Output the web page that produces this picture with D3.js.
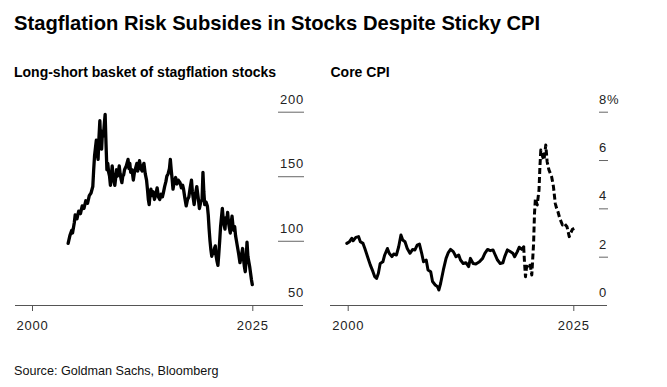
<!DOCTYPE html>
<html>
<head>
<meta charset="utf-8">
<script src="https://cdn.jsdelivr.net/npm/d3@7"></script>
<style>
  body { margin: 0; background: #fff; }
  svg { display: block; font-family: "Liberation Sans", Arial, sans-serif; }
  .tick text { font-size: 13px; letter-spacing: 0.8px; fill: #222; }
</style>
</head>
<body>
<svg id="chart" width="667" height="387"></svg>
<script>
// long-short basket of stagflation stocks (index)
const basketYears = [2004.1, 2004.3, 2004.5, 2004.6, 2004.8, 2004.9, 2005.1, 2005.3, 2005.5, 2005.7, 2005.9, 2006.1, 2006.3, 2006.5, 2006.7, 2006.9,
  2007.0, 2007.1, 2007.2, 2007.3, 2007.4, 2007.5, 2007.6, 2007.7, 2007.8, 2007.9, 2008.0, 2008.1, 2008.2, 2008.3, 2008.4, 2008.5,
  2008.6, 2008.7, 2008.8, 2008.9, 2009.0, 2009.1, 2009.2, 2009.3, 2009.4, 2009.5, 2009.6, 2009.7, 2009.8, 2009.9, 2010.0, 2010.1,
  2010.2, 2010.3, 2010.4, 2010.5, 2010.7, 2010.9, 2011.0, 2011.1, 2011.2, 2011.35, 2011.5, 2011.6, 2011.75, 2011.9, 2012.0, 2012.2,
  2012.35, 2012.5, 2012.6, 2012.7, 2012.85, 2013.0, 2013.1, 2013.2, 2013.3, 2013.4, 2013.5, 2013.6, 2013.75, 2013.9, 2014.05, 2014.2,
  2014.35, 2014.5, 2014.65, 2014.8, 2014.9, 2015.05, 2015.2, 2015.3, 2015.45, 2015.6, 2015.7, 2015.8, 2015.9, 2016.0, 2016.15, 2016.3,
  2016.45, 2016.6, 2016.8, 2016.95, 2017.1, 2017.2, 2017.35, 2017.5, 2017.65, 2017.8, 2017.95, 2018.1, 2018.2, 2018.3, 2018.4, 2018.55,
  2018.7, 2018.85, 2019.0, 2019.15, 2019.3, 2019.4, 2019.5, 2019.6, 2019.75, 2019.9, 2020.0, 2020.1, 2020.2, 2020.3, 2020.4, 2020.5,
  2020.6, 2020.7, 2020.8, 2020.9, 2021.0, 2021.1, 2021.2, 2021.3, 2021.4, 2021.5, 2021.6, 2021.7, 2021.8, 2021.9, 2022.0, 2022.1,
  2022.2, 2022.3, 2022.4, 2022.5, 2022.6, 2022.7, 2022.8, 2022.9, 2023.0, 2023.1, 2023.2, 2023.3, 2023.45, 2023.6, 2023.75, 2023.9,
  2024.0, 2024.1, 2024.2, 2024.3, 2024.4, 2024.5, 2024.6, 2024.7, 2024.8, 2024.9, 2025.0];
const basketValues = [98, 104, 108, 106, 114, 120, 117, 123, 121, 127, 125, 131, 129, 135, 137, 142,
  155, 166, 172, 178, 168, 163, 180, 193, 175, 171, 185, 181, 190, 198, 175, 155,
  160, 153, 150, 143, 150, 158, 150, 146, 143, 149, 155, 150, 153, 158, 152, 148,
  145, 150, 151, 155, 158, 163, 156, 160, 153, 155, 147, 152, 156, 160, 154, 162,
  156, 154, 158, 160, 152, 147, 140, 132, 128, 136, 140, 135, 138, 132, 136, 141,
  134, 132, 136, 134, 137, 142, 146, 150, 152, 156, 163, 155, 148, 140, 146, 149,
  144, 147, 145, 141, 143, 140, 133, 127, 132, 134, 141, 147, 138, 133, 128, 136,
  142, 134, 125, 130, 132, 153, 138, 128, 130, 127, 120, 109, 100, 93, 88, 92,
  90, 94, 96, 88, 84, 81, 90, 100, 111, 118, 125, 117, 112, 109, 118, 115,
  122, 114, 110, 106, 114, 119, 112, 108, 111, 104, 100, 96, 90, 83, 88, 94,
  86, 80, 76, 86, 99, 88, 84, 80, 75, 70, 66];

// core CPI, % y/y
const cpiYears = [1999.9, 2000.2, 2000.45, 2000.6, 2000.9, 2001.2, 2001.4, 2001.7, 2001.9, 2002.2, 2002.5, 2002.8, 2003.0, 2003.2, 2003.4, 2003.6,
  2003.9, 2004.1, 2004.4, 2004.6, 2004.9, 2005.1, 2005.4, 2005.65, 2005.9, 2006.1, 2006.35, 2006.6, 2006.9, 2007.2, 2007.45, 2007.7,
  2007.95, 2008.2, 2008.4, 2008.7, 2008.9, 2009.2, 2009.4, 2009.7, 2009.95, 2010.1, 2010.3, 2010.6, 2010.9, 2011.15, 2011.4, 2011.7,
  2012.0, 2012.3, 2012.5, 2012.8, 2013.1, 2013.4, 2013.6, 2013.9, 2014.2, 2014.6, 2014.95, 2015.2, 2015.5, 2015.8, 2016.1, 2016.3,
  2016.6, 2016.9, 2017.2, 2017.4, 2017.7, 2018.0, 2018.3, 2018.5, 2018.8, 2019.0, 2019.3, 2019.5];
const cpiValues = [2.55, 2.62, 2.76, 2.66, 2.8, 2.83, 2.62, 2.55, 2.34, 2.0, 1.66, 1.38, 1.17, 1.1, 1.31, 1.72,
  1.79, 2.07, 2.34, 2.14, 2.0, 2.11, 2.07, 2.41, 2.9, 2.69, 2.62, 2.34, 2.14, 2.3, 2.28, 2.48,
  2.52, 2.14, 1.79, 1.86, 1.45, 1.38, 0.97, 0.83, 0.76, 0.62, 0.9, 1.45, 1.93, 2.17, 2.3, 2.21,
  2.0, 2.07, 1.86, 1.72, 1.75, 1.59, 1.93, 1.72, 1.7, 1.79, 1.93, 2.14, 2.3, 2.25, 2.28, 2.11,
  1.86, 1.72, 1.75, 2.0, 2.28, 2.21, 2.14, 2.0, 2.21, 2.39, 2.3, 2.41];
// dashed stretch from 2019.5 on
const cpiLateYears = [2019.5, 2019.6, 2019.7, 2019.8, 2020.0, 2020.2, 2020.4, 2020.6, 2020.7, 2020.8, 2021.0, 2021.2, 2021.3, 2021.4, 2021.6, 2021.75,
  2021.95, 2022.1, 2022.3, 2022.6, 2022.8, 2023.0, 2023.15, 2023.3, 2023.5, 2023.8, 2024.0, 2024.3, 2024.55, 2024.7, 2024.9, 2025.1];
const cpiLateValues = [2.41, 1.72, 1.17, 1.52, 1.66, 1.72, 1.24, 2.55, 3.79, 4.41, 4.14, 4.76, 5.72, 6.41, 6.14, 6.0,
  6.62, 5.93, 5.59, 5.31, 4.9, 4.21, 4.0, 3.86, 3.59, 3.31, 3.38, 3.24, 2.83, 2.97, 3.13, 3.17];

const yearTicks = [2000, 2025];
const basketTicks = [50, 100, 150, 200];
const cpiTicks = [0, 2, 4, 6, 8];

const svg = d3.select("#chart");

// titles
svg.append("text").attr("x", 14).attr("y", 30)
  .attr("font-size", 20.2).attr("font-weight", "bold").attr("fill", "#000")
  .text("Stagflation Risk Subsides in Stocks Despite Sticky CPI");
svg.append("text").attr("x", 14).attr("y", 77)
  .attr("font-size", 14).attr("font-weight", "bold").attr("fill", "#000")
  .text("Long-short basket of stagflation stocks");
svg.append("text").attr("x", 330.5).attr("y", 77)
  .attr("font-size", 14).attr("font-weight", "bold").attr("fill", "#000")
  .text("Core CPI");
svg.append("text").attr("x", 14).attr("y", 374.5)
  .attr("font-size", 12.6).attr("fill", "#111")
  .text("Source: Goldman Sachs, Bloomberg");

// ----- left panel
let xL = d3.scaleLinear().domain([2000, 2025]).range([32, 252.3]);
let yL = d3.scaleLinear().domain([50, 200]).range([305.3, 111.7]);

let gridL = svg.append("g")
  .attr("transform", "translate(304,0)")
  .call(d3.axisLeft(yL).tickValues(basketTicks.slice(1)).tickSize(26).tickFormat(d3.format("d")));
gridL.select(".domain").remove();
gridL.selectAll("line").attr("stroke", "#666");
gridL.selectAll("text").attr("x", 0).attr("dy", -8.5).attr("text-anchor", "end");
// the 50 label sits on the axis line
svg.append("g").attr("class", "tick")
  .append("text").attr("x", 304).attr("y", yL(50) - 8.5).attr("text-anchor", "end")
  .text(basketTicks[0]);

svg.append("line").attr("x1", 15).attr("x2", 303).attr("y1", 305.5).attr("y2", 305.5).attr("stroke", "#555");
let axL = svg.append("g").attr("transform", "translate(0,305)")
  .call(d3.axisBottom(xL).tickValues(yearTicks).tickSize(6).tickPadding(10).tickFormat(d3.format("d")));
axL.select(".domain").remove();
axL.selectAll("line").attr("stroke", "#555");

let lineL = d3.line().x(function(d) { return xL(d[0]); }).y(function(d) { return yL(d[1]); });
svg.append("path")
  .datum(d3.zip(basketYears, basketValues))
  .attr("fill", "none").attr("stroke", "#000").attr("stroke-width", 3.3)
  .attr("stroke-linejoin", "round").attr("stroke-linecap", "round")
  .attr("d", lineL);

// ----- right panel
let xR = d3.scaleLinear().domain([2000, 2025]).range([347.7, 573.3]);
let yR = d3.scaleLinear().domain([0, 8]).range([305, 111.7]);

let gridR = svg.append("g")
  .attr("transform", "translate(599,0)")
  .call(d3.axisRight(yR).tickValues(cpiTicks).tickSize(9).tickFormat(function(d) { return d == 8 ? d + "%" : d; }));
gridR.select(".domain").remove();
gridR.selectAll("line").attr("stroke", "#666").filter(function(d) { return d == 0; }).remove();
gridR.selectAll("text").attr("x", 0).attr("dy", -8.5).attr("text-anchor", "start");

svg.append("line").attr("x1", 330).attr("x2", 607).attr("y1", 305.5).attr("y2", 305.5).attr("stroke", "#555");
let axR = svg.append("g").attr("transform", "translate(0,305)")
  .call(d3.axisBottom(xR).tickValues(yearTicks).tickSize(6).tickPadding(10).tickFormat(d3.format("d")));
axR.select(".domain").remove();
axR.selectAll("line").attr("stroke", "#555");

let lineR = d3.line().x(function(d) { return xR(d[0]); }).y(function(d) { return yR(d[1]); });
svg.append("path")
  .datum(d3.zip(cpiYears, cpiValues))
  .attr("fill", "none").attr("stroke", "#000").attr("stroke-width", 3)
  .attr("stroke-linejoin", "round").attr("stroke-linecap", "round")
  .attr("d", lineR);
svg.append("path")
  .datum(d3.zip(cpiLateYears, cpiLateValues))
  .attr("fill", "none").attr("stroke", "#000").attr("stroke-width", 3)
  .attr("stroke-dasharray", "6,3")
  .attr("stroke-linejoin", "round")
  .attr("d", lineR);
</script>
</body>
</html>
